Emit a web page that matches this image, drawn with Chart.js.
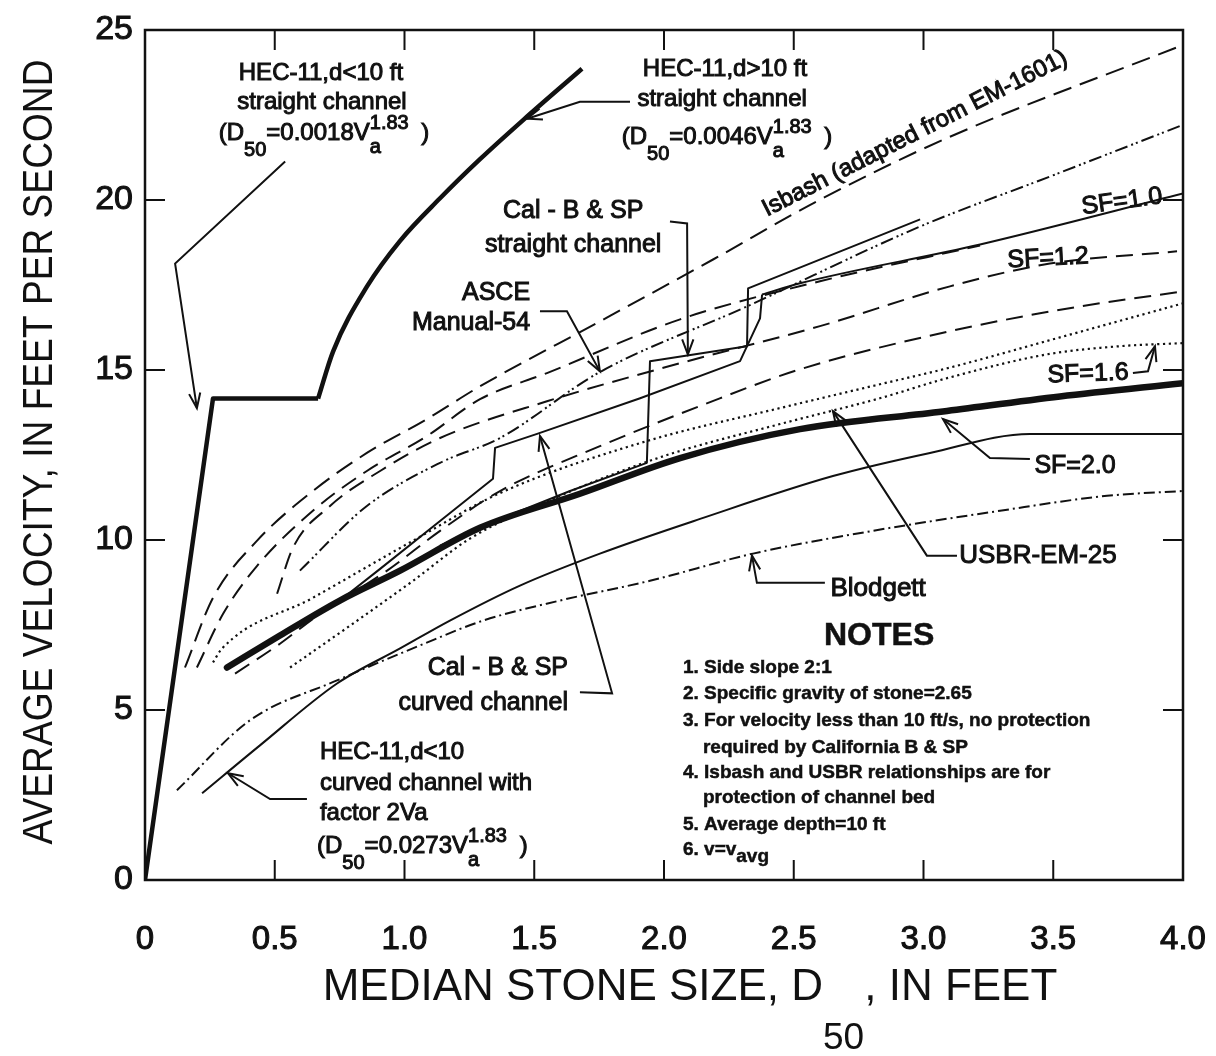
<!DOCTYPE html>
<html lang="en">
<head>
<meta charset="UTF-8">
<title>Riprap design curves: average velocity vs. median stone size</title>
<script src="https://cdn.jsdelivr.net/npm/chart.js@4.4.1/dist/chart.umd.min.js"></script>
<style>
  html, body { margin: 0; padding: 0; background: #fff; }
  #wrap { width: 1216px; height: 1056px; }
</style>
</head>
<body>
<div id="wrap"><canvas id="stoneChart" width="1216" height="1056"></canvas></div>
<script>
const FONT = '"Liberation Sans", Arial, Helvetica, sans-serif';
const INK = '#111';

// axis ticks
const xTicks = [0, 0.5, 1, 1.5, 2, 2.5, 3, 3.5, 4];
const xTickLabels = ['0', '0.5', '1.0', '1.5', '2.0', '2.5', '3.0', '3.5', '4.0'];
const yTicks = [0, 5, 10, 15, 20, 25];
const yTickLabels = ['0', '5', '10', '15', '20', '25'];

// curves: [D50 (ft), velocity (ft/s)]
const hecStraightShallow = [[0, 0], [0.262, 14.16], [0.667, 14.16]];
const hecStraightDeep = [[0.667, 14.16], [0.725, 15.55], [0.855, 17.45], [0.983, 18.8], [1.137, 20.05], [1.291, 21.2], [1.457, 22.35], [1.684, 23.86]];
const isbash = [[0.154, 6.25], [0.262, 8.30], [0.432, 9.98], [0.647, 11.44], [0.855, 12.56], [1.087, 13.56], [1.291, 14.52], [1.753, 16.43], [2.189, 18.25], [2.601, 20.01], [3.102, 21.86], [4.0, 24.56]];
const upperDashed = [[0.200, 6.25], [0.301, 7.83], [0.432, 9.24], [0.647, 10.86], [0.855, 12.03], [1.087, 13.06], [1.291, 14.14], [1.549, 14.91], [2.062, 16.49], [2.601, 17.61], [3.218, 18.66]];
const asce = [[0.597, 9.10], [0.855, 11.0], [1.137, 12.27], [1.368, 13.0], [1.746, 14.91], [2.320, 16.87], [2.987, 19.22], [3.487, 20.69], [4.0, 22.21]];
const sf12 = [[0.509, 8.42], [0.570, 9.77], [0.713, 11.0], [0.906, 12.03], [1.137, 13.0], [1.549, 14.08], [2.062, 15.20], [2.601, 16.29], [3.102, 17.46], [3.487, 18.13], [3.977, 18.49]];
const lowerDashed = [[0.347, 6.07], [0.520, 6.95], [0.674, 7.83], [0.933, 9.10], [1.137, 10.27], [1.368, 11.44], [1.753, 12.76], [2.139, 13.94], [2.524, 15.02], [3.102, 16.14], [3.603, 16.87], [4.0, 17.31]];
const usbr = [[0.262, 6.40], [0.297, 6.81], [0.647, 8.30], [1.033, 9.98], [1.368, 11.38], [1.934, 12.91], [2.447, 13.88], [2.832, 14.58], [3.091, 15.05], [3.526, 15.96], [4.0, 16.96]];
const sf16 = [[0.559, 6.25], [0.790, 7.48], [1.033, 8.80], [1.252, 10.04], [1.599, 11.30], [2.0, 12.47], [2.447, 13.41], [2.832, 14.17], [3.091, 14.76], [3.476, 15.46], [3.757, 15.70], [4.0, 15.79]];
const sf20 = [[0.316, 6.25], [0.520, 7.19], [0.751, 8.22], [0.983, 9.10], [1.291, 10.36], [1.676, 11.36], [2.062, 12.41], [2.524, 13.26], [3.075, 13.78], [3.526, 14.22], [4.0, 14.61]];
const calCurved = [[0.751, 8.22], [0.906, 9.15], [1.137, 10.56], [1.341, 11.80], [1.349, 12.71], [1.511, 13.12], [1.908, 14.17], [2.293, 15.26], [2.370, 16.52], [2.378, 17.22]];
const calStraight = [[1.137, 9.83], [1.368, 10.62], [1.638, 11.44], [1.934, 12.27], [1.946, 15.26], [2.320, 15.70], [2.324, 17.40], [2.987, 19.43]];
const sf10 = [[2.378, 17.22], [2.524, 17.55], [3.218, 18.69], [4.0, 20.19]];
const hecCurved = [[0.220, 2.55], [0.443, 3.96], [0.740, 5.78], [0.983, 6.81], [1.175, 7.63], [1.445, 8.66], [1.753, 9.60], [2.139, 10.62], [2.651, 11.88], [3.025, 12.56], [3.410, 13.12], [4.0, 13.12]];
const blodgett = [[0.123, 2.64], [0.405, 4.70], [0.740, 5.87], [1.060, 6.90], [1.303, 7.63], [1.599, 8.22], [1.946, 8.80], [2.343, 9.60], [2.805, 10.27], [3.295, 10.86], [3.707, 11.30], [4.0, 11.44]];

// callout text: [text, x, y, size, align, rotation in degrees]
const callouts = [
  ['HEC-11,d<10 ft', 0.678, 23.71, 24, 'center', 0],
  ['straight channel', 0.682, 22.86, 24, 'center', 0],
  ['HEC-11,d>10 ft', 2.235, 23.83, 24, 'center', 0],
  ['straight channel', 2.224, 22.95, 24, 'center', 0],
  ['Isbash (adapted from EM-1601)', 2.967, 21.95, 24, 'center', -27],
  ['Cal - B & SP', 1.650, 19.66, 25, 'center', 0],
  ['straight channel', 1.650, 18.66, 25, 'center', 0],
  ['ASCE', 1.484, 17.25, 25, 'right', 0],
  ['Manual-54', 1.484, 16.37, 25, 'right', 0],
  ['SF=1.0', 3.765, 19.95, 25, 'center', -8],
  ['SF=1.2', 3.480, 18.28, 25, 'center', -3],
  ['SF=1.6', 3.634, 14.88, 25, 'center', -2],
  ['SF=2.0', 3.584, 12.18, 25, 'center', 0],
  ['USBR-EM-25', 3.441, 9.54, 26, 'center', 0],
  ['Blodgett', 2.825, 8.57, 26, 'center', 0],
  ['Cal - B & SP', 1.630, 6.22, 25, 'right', 0],
  ['curved channel', 1.630, 5.19, 25, 'right', 0],
  ['HEC-11,d<10', 0.674, 3.76, 24, 'left', 0],
  ['curved channel with', 0.674, 2.85, 24, 'left', 0],
  ['factor 2Va', 0.674, 1.97, 24, 'left', 0]
];

// D50 = coef * Va^1.83 : [coef, x, baseline y, align]
const formulas = [
  ['0.0018', 0.690, 21.77, 'center'],
  ['0.0046', 2.243, 21.66, 'center'],
  ['0.0273', 0.663, 0.79, 'left']
];

// leader lines, last point is the arrow tip
const leaders = [
  [[0.540, 21.13], [0.116, 18.13], [0.200, 13.88]],
  [[1.869, 22.89], [1.676, 22.89], [1.472, 22.39]],
  [[2.023, 19.37], [2.089, 19.31], [2.092, 15.46]],
  [[1.522, 16.73], [1.626, 16.73], [1.753, 14.96]],
  [[3.807, 14.91], [3.865, 14.96], [3.892, 15.70]],
  [[3.410, 12.38], [3.256, 12.41], [3.075, 13.56]],
  [[3.129, 9.54], [3.013, 9.54], [2.651, 13.79]],
  [[2.620, 8.74], [2.358, 8.74], [2.339, 9.54]],
  [[1.676, 5.52], [1.800, 5.49], [1.522, 13.06]],
  [[0.624, 2.38], [0.482, 2.38], [0.320, 3.14]]
];

const notesHeading = ['NOTES', 2.829, 7.16];
const notesLines = [
  '1. Side slope 2:1',
  '2. Specific gravity of stone=2.65',
  '3. For velocity less than 10 ft/s, no protection',
  'required by California B & SP',
  '4. Isbash and USBR relationships are for',
  'protection of channel bed',
  '5. Average depth=10 ft'
];
const notesIndent = [0, 0, 0, 1, 0, 1, 0];
const notesY = [6.25, 5.49, 4.69, 3.90, 3.14, 2.41, 1.61, 0.88];
const notesX = [2.073, 2.150];

function curve(label, pts, width, dash, smooth) {
  return {
    label: label,
    data: pts.map(p => ({ x: p[0], y: p[1] })),
    borderColor: INK,
    borderWidth: width,
    borderDash: dash,
    borderCapStyle: 'butt',
    borderJoinStyle: 'round',
    pointRadius: 0,
    fill: false,
    tension: 0,
    cubicInterpolationMode: smooth ? 'monotone' : 'default'
  };
}

const DOTS = [2.2, 3.6];
const LONG_DASH = [19, 9];
const datasets = [
  curve('Blodgett', blodgett, 2, [11, 4, 2, 4], true),
  curve('HEC-11 d<10 curved channel', hecCurved, 2, [], true),
  curve('ASCE Manual-54', asce, 2, [13, 4, 2, 3, 2, 4], true),
  curve('Isbash', isbash, 2, LONG_DASH, true),
  curve('upper dashed', upperDashed, 2, [17, 9], true),
  curve('SF=1.2', sf12, 2, [17, 9], true),
  curve('lower dashed', lowerDashed, 2, [17, 9], true),
  curve('USBR-EM-25', usbr, 2.2, DOTS, true),
  curve('SF=1.6', sf16, 2.2, DOTS, true),
  curve('Cal-B&SP curved', calCurved, 2, [], false),
  curve('Cal-B&SP straight', calStraight, 2, [], false),
  curve('SF=1.0', sf10, 2, [], true),
  curve('SF=2.0', sf20, 6.5, [], true),
  curve('HEC-11 d<10 straight', hecStraightShallow, 4.5, [], false),
  curve('HEC-11 d>10 straight', hecStraightDeep, 4.5, [], true)
];
datasets[12].borderCapStyle = 'round';

function heavyText(ctx, str, x, y, size, align, baseline, bold) {
  ctx.font = (bold ? 'bold ' : '') + size + 'px ' + FONT;
  ctx.textAlign = align;
  ctx.textBaseline = baseline;
  ctx.fillText(str, x, y);
  ctx.lineWidth = bold ? 0.5 : 1;
  ctx.strokeText(str, x, y);
}

function arrowHead(ctx, from, tip) {
  const ang = Math.atan2(tip[1] - from[1], tip[0] - from[0]);
  const len = 16, spread = 0.36;
  ctx.beginPath();
  ctx.moveTo(tip[0] - len * Math.cos(ang - spread), tip[1] - len * Math.sin(ang - spread));
  ctx.lineTo(tip[0], tip[1]);
  ctx.lineTo(tip[0] - len * Math.cos(ang + spread), tip[1] - len * Math.sin(ang + spread));
  ctx.stroke();
}

// (D50=coef Va^1.83 )
function drawFormula(ctx, coef, x, y, align) {
  const big = '24px ' + FONT, small = '20px ' + FONT;
  ctx.font = big;
  const w1 = ctx.measureText('(D').width;
  const w3 = ctx.measureText('=' + coef + 'V').width;
  const w5 = ctx.measureText(' )').width;
  ctx.font = small;
  const w2 = ctx.measureText('50').width;
  const w4 = ctx.measureText('1.83').width;
  const total = w1 + w2 + w3 + w4 + 6 + w5;
  let cx = align === 'center' ? x - total / 2 : x;
  const parts = [
    ['(D', big, 0, w1],
    ['50', small, 16, w2],
    ['=' + coef + 'V', big, 0, w3]
  ];
  ctx.textAlign = 'left';
  ctx.textBaseline = 'alphabetic';
  ctx.lineWidth = 1;
  parts.forEach(p => {
    ctx.font = p[1];
    ctx.fillText(p[0], cx, y + p[2]);
    ctx.strokeText(p[0], cx, y + p[2]);
    cx += p[3];
  });
  ctx.font = small;
  ctx.fillText('a', cx, y + 13); ctx.strokeText('a', cx, y + 13);
  ctx.fillText('1.83', cx, y - 11); ctx.strokeText('1.83', cx, y - 11);
  cx += w4 + 6;
  ctx.font = big;
  ctx.fillText(' )', cx, y); ctx.strokeText(' )', cx, y);
}

const paperPlugin = {
  id: 'paperPlugin',
  afterDraw(chart) {
    const ctx = chart.ctx;
    const xs = chart.scales.x, ys = chart.scales.y;
    const area = chart.chartArea;
    const P = (x, y) => [xs.getPixelForValue(x), ys.getPixelForValue(y)];
    ctx.save();
    ctx.strokeStyle = INK;
    ctx.fillStyle = INK;
    ctx.lineCap = 'butt';

    // frame and inward ticks
    ctx.lineWidth = 2.5;
    ctx.strokeRect(area.left, area.top, area.right - area.left, area.bottom - area.top);
    ctx.lineWidth = 2;
    const tick = 20;
    xTicks.slice(1, -1).forEach(v => {
      const px = xs.getPixelForValue(v);
      ctx.beginPath();
      ctx.moveTo(px, area.bottom); ctx.lineTo(px, area.bottom - tick);
      ctx.moveTo(px, area.top); ctx.lineTo(px, area.top + tick);
      ctx.stroke();
    });
    yTicks.slice(1, -1).forEach(v => {
      const py = ys.getPixelForValue(v);
      ctx.beginPath();
      ctx.moveTo(area.left, py); ctx.lineTo(area.left + tick, py);
      ctx.moveTo(area.right, py); ctx.lineTo(area.right - tick, py);
      ctx.stroke();
    });

    // leader lines with open arrowheads
    ctx.lineWidth = 2;
    ctx.lineJoin = 'miter';
    leaders.forEach(pts => {
      const pp = pts.map(p => P(p[0], p[1]));
      ctx.beginPath();
      ctx.moveTo(pp[0][0], pp[0][1]);
      pp.slice(1).forEach(p => ctx.lineTo(p[0], p[1]));
      ctx.stroke();
      arrowHead(ctx, pp[pp.length - 2], pp[pp.length - 1]);
    });

    // callout labels
    callouts.forEach(c => {
      const p = P(c[1], c[2]);
      ctx.save();
      ctx.translate(p[0], p[1]);
      ctx.rotate(c[5] * Math.PI / 180);
      heavyText(ctx, c[0], 0, 0, c[3], c[4], 'middle', false);
      ctx.restore();
    });
    formulas.forEach(f => {
      const p = P(f[1], f[2]);
      drawFormula(ctx, f[0], p[0], p[1], f[3]);
    });

    // notes block
    const nh = P(notesHeading[1], notesHeading[2]);
    heavyText(ctx, notesHeading[0], nh[0], nh[1], 32, 'center', 'middle', true);
    notesLines.forEach((t, i) => {
      const p = P(notesX[notesIndent[i]], notesY[i]);
      heavyText(ctx, t, p[0], p[1], 19, 'left', 'middle', true);
    });
    const n6 = P(notesX[0], notesY[7]);
    heavyText(ctx, '6. v=v', n6[0], n6[1], 19, 'left', 'middle', true);
    ctx.font = 'bold 19px ' + FONT;
    const w6 = ctx.measureText('6. v=v').width;
    heavyText(ctx, 'avg', n6[0] + w6, n6[1] + 7, 19, 'left', 'middle', true);

    // axis titles
    ctx.save();
    ctx.translate(52, 452);
    ctx.rotate(-Math.PI / 2);
    ctx.font = '42px ' + FONT;
    ctx.textAlign = 'center';
    ctx.textBaseline = 'alphabetic';
    ctx.fillText('AVERAGE VELOCITY, IN FEET PER SECOND', 0, 0, 785);
    ctx.restore();

    ctx.textBaseline = 'alphabetic';
    ctx.textAlign = 'left';
    const big = '44px ' + FONT, small = '37px ' + FONT;
    const a = 'MEDIAN STONE SIZE, D', b = '50', c = ', IN FEET';
    ctx.font = big;
    const wa = ctx.measureText(a).width, wc = ctx.measureText(c).width;
    ctx.font = small;
    const wb = ctx.measureText(b).width;
    const tx = 690 - (wa + wb + wc) / 2;
    ctx.font = big;
    ctx.fillText(a, tx, 1000);
    ctx.fillText(c, tx + wa + wb, 1000);
    ctx.font = small;
    ctx.fillText(b, tx + wa, 1049);
    ctx.restore();
  }
};

new Chart(document.getElementById('stoneChart'), {
  type: 'line',
  data: { datasets: datasets },
  options: {
    responsive: false,
    animation: false,
    events: [],
    layout: { padding: { top: 30, right: 33, left: 0, bottom: 0 } },
    plugins: { legend: { display: false }, tooltip: { enabled: false } },
    scales: {
      x: {
        type: 'linear',
        min: 0,
        max: 4,
        afterBuildTicks: s => { s.ticks = xTicks.map(v => ({ value: v })); },
        afterFit: s => { s.height = 176; s.paddingLeft = 0; s.paddingRight = 0; },
        grid: { display: false, drawTicks: false },
        border: { display: false },
        ticks: {
          padding: 40,
          maxRotation: 0,
          autoSkip: false,
          color: INK,
          textStrokeColor: INK,
          textStrokeWidth: 1,
          font: { family: FONT, size: 33 },
          callback: (v, i) => xTickLabels[i]
        }
      },
      y: {
        type: 'linear',
        min: 0,
        max: 25,
        afterBuildTicks: s => { s.ticks = yTicks.map(v => ({ value: v })); },
        afterFit: s => { s.width = 145; s.paddingTop = 0; s.paddingBottom = 0; },
        grid: { display: false, drawTicks: false },
        border: { display: false },
        ticks: {
          padding: 12,
          autoSkip: false,
          color: INK,
          textStrokeColor: INK,
          textStrokeWidth: 1,
          font: { family: FONT, size: 34 },
          callback: (v, i) => yTickLabels[i]
        }
      }
    }
  },
  plugins: [paperPlugin]
});
</script>
</body>
</html>
